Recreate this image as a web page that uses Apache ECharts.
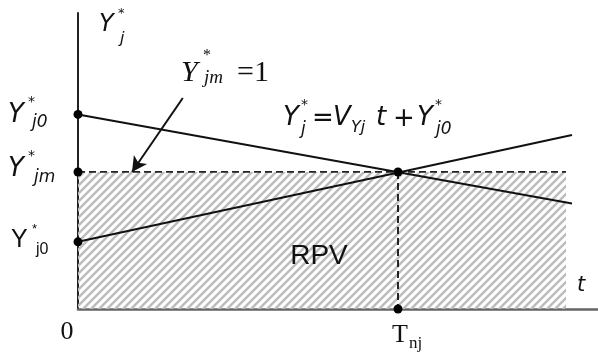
<!DOCTYPE html>
<html lang="en">
<head>
  <meta charset="UTF-8">
  <script src="https://cdn.jsdelivr.net/npm/echarts@6/dist/echarts.min.js"></script>
  <style>
    body, html { margin: 0; padding: 0; width: 100%; height: 100%; background: #fff; overflow: hidden; }
    #main { width: 598px; height: 352px; }
  </style>
</head>
<body>
  <div id="main"></div>
  <script type="text/javascript">
    // diagram values (t on x, Y*j on y)
    const tMax = 13;
    const yMax = 2.16;
    const yjm = 1;
    const tnj = 8;
    const rpvEnd = 12.2;
    const decline = [[0, 1.42], [12.35, 0.77]];
    const rise = [[0, 0.49], [12.35, 1.27]];
    const dots = [[0, 1.42], [0, 1], [0, 0.49], [8, 1], [8, 0]];
    const arrowFrom = [2.62, 1.54];
    const arrowTo = [1.35, 1.0];

    const INK = '#111';
    const SANS = '"DejaVu Sans", Verdana, sans-serif';
    const ARIAL = '"Liberation Sans", Arial, sans-serif';
    const SERIF = '"Liberation Serif", "Times New Roman", serif';

    // hatch tile for the RPV area
    function hatch() {
      const c = document.createElement('canvas');
      c.width = 8; c.height = 8;
      const g = c.getContext('2d');
      g.strokeStyle = '#bdbdbd';
      g.lineWidth = 2.5;
      g.beginPath();
      g.moveTo(-2, 10); g.lineTo(10, -2);
      g.moveTo(-2, 2); g.lineTo(2, -2);
      g.moveTo(6, 10); g.lineTo(10, 6);
      g.stroke();
      return c;
    }

    function txt(s, x, y, size, family, italic, align) {
      return {
        type: 'text', x: x, y: y, z: 100,
        style: {
          text: s,
          font: (italic ? 'italic ' : '') + size + 'px ' + family,
          fill: INK,
          align: align || 'left', verticalAlign: 'middle',
          textAlign: align || 'left', textVerticalAlign: 'middle'
        }
      };
    }

    const labels = [
      // axis title
      txt('Y', 99, 25, 24, SANS, true), txt('*', 118, 14, 13, SANS, false), txt('j', 120, 39, 16, SANS, true),
      // upper Y*j0
      txt('Y', 8, 115, 26, SANS, true), txt('*', 28, 102, 14, SANS, false), txt('j0', 32, 123, 17, SANS, true),
      // Y*jm
      txt('Y', 8, 169, 26, SANS, true), txt('*', 28, 156, 14, SANS, false), txt('jm', 34, 178, 17, SANS, true),
      // lower Y*j0 (upright)
      txt('Y', 11, 240, 25, ARIAL, false), txt('*', 32, 229, 13, ARIAL, false), txt('j0', 36, 250, 16, ARIAL, false),
      // Y*jm = 1
      txt('Y', 181, 73, 30, SERIF, true), txt('*', 203, 56, 16, SERIF, false), txt('jm', 204, 78, 19, SERIF, true),
      txt('=1', 237, 73, 30, SERIF, false),
      // formula
      txt('Y', 283, 118, 26, SANS, true), txt('*', 301, 105, 14, SANS, false), txt('j', 301, 130, 17, SANS, true),
      txt('=', 312, 119, 26, SANS, false),
      txt('V', 333, 118, 26, SANS, true), txt('Yj', 351, 128, 16, SANS, true),
      txt('t', 376, 118, 26, SANS, true),
      txt('+', 393, 119, 26, SANS, false),
      txt('Y', 417, 118, 26, SANS, true), txt('*', 435, 105, 14, SANS, false), txt('j0', 436, 130, 17, SANS, true),
      // area label and axis marks
      txt('RPV', 319, 256, 28, ARIAL, false, 'center'),
      txt('t', 577, 286, 21, SANS, true),
      txt('0', 67, 332, 26, SERIF, false, 'center'),
      txt('T', 392, 335, 26, SERIF, false), txt('nj', 409, 344, 17, SERIF, false)
    ];

    const myChart = echarts.init(document.getElementById('main'));

    const option = {
      animation: false,
      backgroundColor: '#fff',
      grid: { left: 78, right: 0, top: 13, bottom: 43 },
      xAxis: {
        type: 'value', min: 0, max: tMax,
        axisLine: { show: true, lineStyle: { color: '#666', width: 2.5 } },
        axisTick: { show: false }, axisLabel: { show: false }, splitLine: { show: false }
      },
      yAxis: {
        type: 'value', min: 0, max: yMax,
        axisLine: { show: true, lineStyle: { color: '#222', width: 2 } },
        axisTick: { show: false }, axisLabel: { show: false }, splitLine: { show: false }
      },
      graphic: labels,
      series: [
        {
          name: 'RPV',
          type: 'line',
          data: [],
          markArea: {
            silent: true,
            itemStyle: { color: { image: hatch(), repeat: 'repeat' } },
            data: [[{ coord: [0, yjm] }, { coord: [rpvEnd, 0] }]]
          },
          markLine: {
            silent: true,
            symbol: ['none', 'arrow'],
            symbolSize: [12, 15],
            label: { show: false },
            lineStyle: { color: INK, width: 2, type: 'solid' },
            itemStyle: { color: INK },
            data: [[{ coord: arrowFrom }, { coord: arrowTo }]]
          }
        },
        {
          name: 'Y*jm',
          type: 'line',
          data: [[0, yjm], [rpvEnd, yjm]],
          symbol: 'none',
          lineStyle: { color: '#222', width: 1.8, type: [7, 4] }
        },
        {
          name: 'Tnj',
          type: 'line',
          data: [[tnj, yjm], [tnj, 0]],
          symbol: 'none',
          lineStyle: { color: '#111', width: 1.8, type: [7, 4] }
        },
        {
          name: 'decline',
          type: 'line',
          data: decline,
          symbol: 'none',
          lineStyle: { color: INK, width: 2 }
        },
        {
          name: 'rise',
          type: 'line',
          data: rise,
          symbol: 'none',
          lineStyle: { color: INK, width: 2 }
        },
        {
          name: 'points',
          type: 'scatter',
          data: dots,
          symbolSize: 9,
          itemStyle: { color: '#000', opacity: 1 },
          z: 10
        }
      ]
    };

    myChart.setOption(option);
  </script>
</body>
</html>
